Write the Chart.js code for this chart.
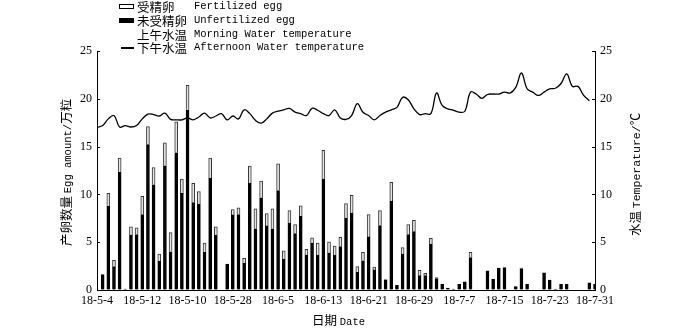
<!DOCTYPE html>
<html lang="zh">
<head>
  <meta charset="UTF-8">
  <title>产卵数量与水温</title>
  <script src="https://cdn.jsdelivr.net/npm/chart.js"></script>
  <style>
    body { margin: 0; background: #fff; }
    #wrap { position: relative; width: 700px; height: 328px; }
    #chart { position: absolute; left: 0; top: 0; }
    .txt { position: absolute; color: #000; white-space: nowrap; line-height: 13px; }
    .zh { font-family: "Noto Sans CJK SC", sans-serif; font-size: 12.5px; }
    .en { font-family: "Liberation Mono", "DejaVu Sans Mono", monospace; font-size: 10.5px; }
    .legend-row { position: absolute; left: 117px; height: 13px; width: 260px; }
    .legend-row .sym { position: absolute; left: 2px; top: 4px; width: 15px; height: 5px; box-sizing: border-box; }
    .legend-row .zh { position: absolute; left: 20px; top: 0; }
    .legend-row .en { position: absolute; left: 77px; top: 0; }
    .vt { transform-origin: 0 0; transform: rotate(-90deg); }
  </style>
</head>
<body>
<div id="wrap">
  <canvas id="chart" width="700" height="328"></canvas>

  <div class="txt legend-row" style="top:0px">
    <div class="sym" style="border:1px solid #000;background:#fff"></div>
    <span class="zh">受精卵</span><span class="en">Fertilized egg</span>
  </div>
  <div class="txt legend-row" style="top:14px">
    <div class="sym" style="background:#000"></div>
    <span class="zh">未受精卵</span><span class="en">Unfertilized egg</span>
  </div>
  <div class="txt legend-row" style="top:28px">
    <span class="zh">上午水温</span><span class="en">Morning Water temperature</span>
  </div>
  <div class="txt legend-row" style="top:41px">
    <div class="sym" style="top:6px;left:4px;width:13px;height:1.5px;background:#000"></div>
    <span class="zh">下午水温</span><span class="en">Afternoon Water temperature</span>
  </div>

  <div class="txt vt" style="left:59px;top:246px"><span class="zh">产卵数量 </span><span class="en">Egg amount/</span><span class="zh">万粒</span></div>
  <div class="txt vt" style="left:628px;top:236px"><span class="zh">水温 </span><span class="en" style="font-size:11.5px">Temperature/</span><span class="zh">℃</span></div>
  <div class="txt" style="left:312px;top:313px"><span class="zh">日期 </span><span class="en">Date</span></div>
</div>

<script>
// dates 2018-05-04 .. 2018-07-31
const categories = [
  '18-5-4','18-5-5','18-5-6','18-5-7','18-5-8','18-5-9','18-5-10','18-5-11','18-5-12','18-5-13',
  '18-5-14','18-5-15','18-5-16','18-5-17','18-5-18','18-5-19','18-5-20','18-5-21','18-5-22','18-5-23',
  '18-5-24','18-5-25','18-5-26','18-5-27','18-5-28','18-5-29','18-5-30','18-5-31','18-6-1','18-6-2',
  '18-6-3','18-6-4','18-6-5','18-6-6','18-6-7','18-6-8','18-6-9','18-6-10','18-6-11','18-6-12',
  '18-6-13','18-6-14','18-6-15','18-6-16','18-6-17','18-6-18','18-6-19','18-6-20','18-6-21','18-6-22',
  '18-6-23','18-6-24','18-6-25','18-6-26','18-6-27','18-6-28','18-6-29','18-6-30','18-7-1','18-7-2',
  '18-7-3','18-7-4','18-7-5','18-7-6','18-7-7','18-7-8','18-7-9','18-7-10','18-7-11','18-7-12',
  '18-7-13','18-7-14','18-7-15','18-7-16','18-7-17','18-7-18','18-7-19','18-7-20','18-7-21','18-7-22',
  '18-7-23','18-7-24','18-7-25','18-7-26','18-7-27','18-7-28','18-7-29','18-7-30','18-7-31'
];

// labels as printed on the axis (every 8th day)
const tickLabels = ['18-5-4','18-5-12','18-5-10','18-5-28','18-6-5','18-6-13',
                    '18-6-21','18-6-29','18-7-7','18-7-15','18-7-23','18-7-31'];
const tickStep = 8;

// egg amount, 10^4 eggs
const unfertilized = [
  0, 1.6, 8.75, 2.45, 12.3, 0.1, 5.75, 5.8, 7.9, 15.2,
  11.0, 3.0, 13.0, 4.0, 14.35, 10.1, 18.8, 9.15, 9.0, 3.95,
  11.7, 5.75, 0, 2.7, 7.85, 7.9, 2.8, 11.15, 6.4, 9.65,
  6.7, 6.4, 10.4, 3.2, 7.0, 5.9, 7.7, 3.65, 4.9, 3.65,
  11.6, 3.85, 3.65, 4.55, 7.5, 8.05, 1.85, 3.05, 5.55, 2.1,
  6.75, 1.05, 9.3, 0.5, 3.75, 5.8, 6.1, 1.5, 1.5, 4.8,
  1.2, 0.6, 0.2, 0.1, 0.6, 0.85, 3.4, 0, 0, 2.0,
  1.15, 2.3, 2.35, 0, 0.35, 2.25, 0.6, 0, 0, 1.8,
  1.05, 0.1, 0.6, 0.6, 0, 0, 0, 0.75, 0.6
];
const fertilized = [
  0, 0, 1.35, 0.65, 1.5, 0, 0.85, 0.7, 1.9, 1.9,
  1.8, 0.75, 2.4, 2.0, 3.25, 1.5, 2.6, 2.0, 1.3, 0.95,
  2.1, 0.85, 0, 0, 0.55, 0.7, 0.5, 1.8, 2.1, 1.75,
  1.3, 2.1, 2.8, 0.9, 1.3, 0.95, 1.1, 0.6, 0.55, 1.25,
  3.0, 1.2, 0.95, 0.95, 1.55, 1.85, 0.6, 0.9, 2.35, 0.3,
  1.55, 0.05, 1.95, 0, 0.7, 1.05, 1.2, 0.55, 0.25, 0.6,
  0.1, 0, 0, 0, 0, 0, 0.55, 0, 0, 0,
  0, 0, 0, 0, 0, 0.05, 0, 0, 0, 0,
  0, 0, 0, 0, 0, 0, 0, 0, 0
];

// afternoon water temperature, degC
const afternoonTemp = [
  17.0, 17.2, 17.9, 18.25, 17.05, 17.2, 17.05, 17.2, 17.9, 18.4,
  18.35, 18.2, 18.5, 17.85, 17.8, 17.8, 18.0, 17.8, 18.1, 18.5,
  18.0, 18.2, 18.45, 17.8, 18.2, 17.9, 18.85, 18.45, 17.75, 17.45,
  17.9, 18.5, 18.7, 18.85, 19.0, 18.6, 18.45, 18.25, 19.0, 18.8,
  18.45, 18.25, 18.85, 18.0, 17.85, 18.25, 19.5, 18.6, 18.25, 17.8,
  18.25, 18.6, 18.85, 19.1, 20.15, 19.9, 18.95, 18.35, 18.45, 18.45,
  20.6, 19.3, 18.95, 18.8, 18.6, 18.7, 20.7, 20.5, 20.05, 20.45,
  20.5, 20.5, 20.7, 20.6, 21.2, 22.7, 21.05, 20.7, 20.35, 20.7,
  21.05, 21.1, 21.6, 22.6, 21.3, 21.3, 20.35, 19.8, null
];

const tickFont = { family: '"Liberation Serif", "DejaVu Serif", serif', size: 12 };

// short tick marks pointing into the plot on both y axes
const innerTicks = {
  id: 'innerTicks',
  afterDraw(chart) {
    const ctx = chart.ctx;
    const { left, right } = chart.chartArea;
    ctx.save();
    ctx.strokeStyle = '#000';
    ctx.lineWidth = 1;
    [['y', left, 3], ['y1', right, -3]].forEach(([id, x, d]) => {
      const sc = chart.scales[id];
      sc.ticks.forEach(t => {
        const y = Math.round(sc.getPixelForValue(t.value)) + 0.5;
        ctx.beginPath();
        ctx.moveTo(x, y);
        ctx.lineTo(x + d, y);
        ctx.stroke();
      });
    });
    ctx.restore();
  }
};

new Chart(document.getElementById('chart'), {
  type: 'bar',
  data: {
    labels: categories,
    datasets: [
      {
        label: '未受精卵 Unfertilized egg',
        data: unfertilized,
        backgroundColor: '#000',
        borderColor: '#000',
        borderWidth: 1,
        barThickness: 3,
        stack: 'egg',
        yAxisID: 'y',
        order: 2
      },
      {
        label: '受精卵 Fertilized egg',
        data: fertilized,
        backgroundColor: '#e4e4e4',
        borderColor: '#333',
        borderWidth: 1,
        barThickness: 3,
        stack: 'egg',
        yAxisID: 'y',
        order: 2
      },
      {
        type: 'line',
        label: '下午水温 Afternoon Water temperature',
        data: afternoonTemp,
        borderColor: '#000',
        borderWidth: 1.3,
        pointRadius: 0,
        tension: 0.4,
        fill: false,
        yAxisID: 'y1',
        order: 0
      }
    ]
  },
  options: {
    responsive: false,
    animation: false,
    layout: { padding: { top: 51, left: 0, right: 0, bottom: 0 } },
    plugins: {
      legend: { display: false },
      tooltip: { enabled: false }
    },
    scales: {
      x: {
        stacked: true,
        offset: false,
        afterFit: s => { s.height = 38; },
        grid: { drawOnChartArea: false, drawTicks: false },
        border: { color: '#000', width: 1 },
        ticks: {
          autoSkip: false,
          maxRotation: 0,
          padding: 4,
          color: '#000',
          font: tickFont,
          callback: (v, i) => (i % tickStep === 0 ? tickLabels[i / tickStep] : '')
        }
      },
      y: {
        stacked: true,
        position: 'left',
        min: 0,
        max: 25,
        afterFit: s => { s.width = 97; },
        grid: { drawOnChartArea: false, drawTicks: false },
        border: { color: '#000', width: 1 },
        ticks: { stepSize: 5, padding: 5, color: '#000', font: tickFont }
      },
      y1: {
        position: 'right',
        min: 0,
        max: 25,
        afterFit: s => { s.width = 105; },
        grid: { drawOnChartArea: false, drawTicks: false },
        border: { color: '#000', width: 1 },
        ticks: { stepSize: 5, padding: 5, color: '#000', font: tickFont }
      }
    }
  },
  plugins: [innerTicks]
});
</script>
</body>
</html>
